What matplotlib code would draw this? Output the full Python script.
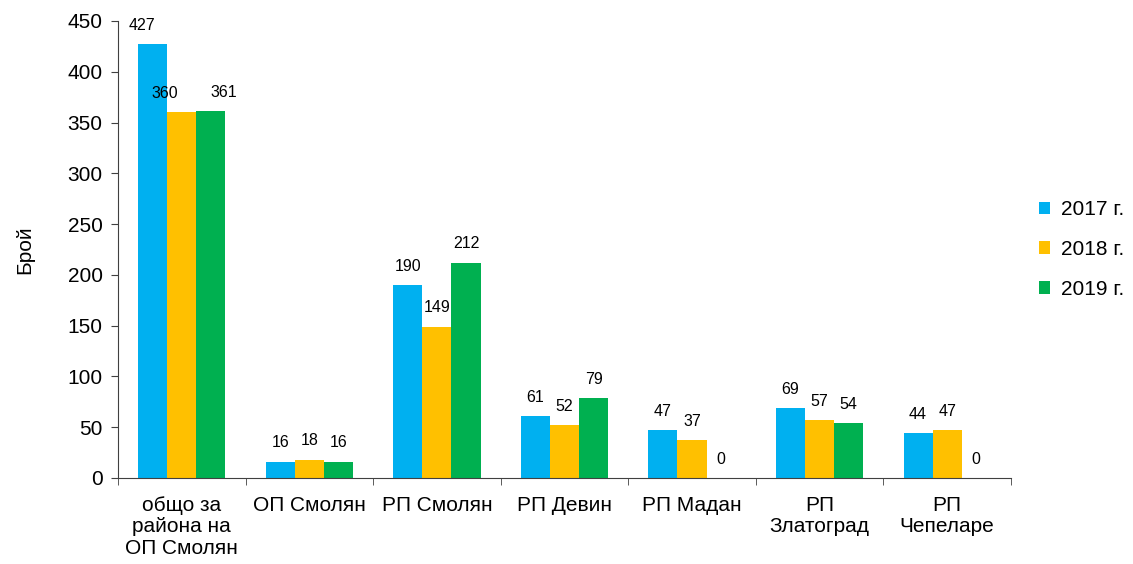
import numpy as np
import matplotlib
matplotlib.use("Agg")
import matplotlib.pyplot as plt

plt.rcParams['font.family'] = ['Liberation Sans', 'DejaVu Sans']

categories = ["общо за\nрайона на\nОП Смолян", "ОП Смолян", "РП Смолян", "РП Девин",
              "РП Мадан", "РП\nЗлатоград", "РП\nЧепеларе"]
years = ["2017 г.", "2018 г.", "2019 г."]
v2017 = [427, 16, 190, 61, 47, 69, 44]
v2018 = [360, 18, 149, 52, 37, 57, 47]
v2019 = [361, 16, 212, 79, 0, 54, 0]
colors = ["#00B0F0", "#FFC000", "#00B050"]

# labels moved by hand in the original (series, category) -> points
nudge = {(0, 0): -8, (1, 0): -12, (2, 0): 9}

fig = plt.figure(figsize=(11.33, 5.64), dpi=100)
ax = fig.add_axes([0.1041, 0.1525, 0.7882, 0.8103])

x = np.arange(len(categories))
w = 0.228
for i, (vals, col, lab) in enumerate(zip([v2017, v2018, v2019], colors, years)):
    pos = x + (i - 1) * w
    ax.bar(pos, vals, width=w, color=col, label=lab)
    for j, (px, v) in enumerate(zip(pos, vals)):
        ax.annotate(str(v), (px, v), xytext=(nudge.get((i, j), 0), 13.5),
                    textcoords="offset points", ha="center", va="center", fontsize=11.5)

ax.set_xlim(-0.5, len(categories) - 0.5)
ax.set_ylim(0, 450)
ax.set_yticks(range(0, 451, 50))
ax.set_xticks(x)
ax.set_xticklabels(categories, fontsize=15, linespacing=1.15)
ax.set_xticks(np.arange(-0.5, len(categories), 1.0), minor=True)
ax.tick_params(axis="x", which="major", length=0, pad=13)
ax.tick_params(axis="x", which="minor", length=5, direction="out", color="#404040")
ax.tick_params(axis="y", labelsize=15, length=5, pad=6, direction="out", color="#404040")
for s in ["top", "right"]:
    ax.spines[s].set_visible(False)
for s in ["left", "bottom"]:
    ax.spines[s].set_color("#404040")

ax.set_ylabel("Брой", fontsize=15, labelpad=24)

ax.legend(loc="center left", bbox_to_anchor=(1.01, 0.5), frameon=False, fontsize=15,
          handlelength=0.55, handleheight=0.55, handletextpad=0.5, labelspacing=1.0)

fig.savefig("out.png", dpi=100)
